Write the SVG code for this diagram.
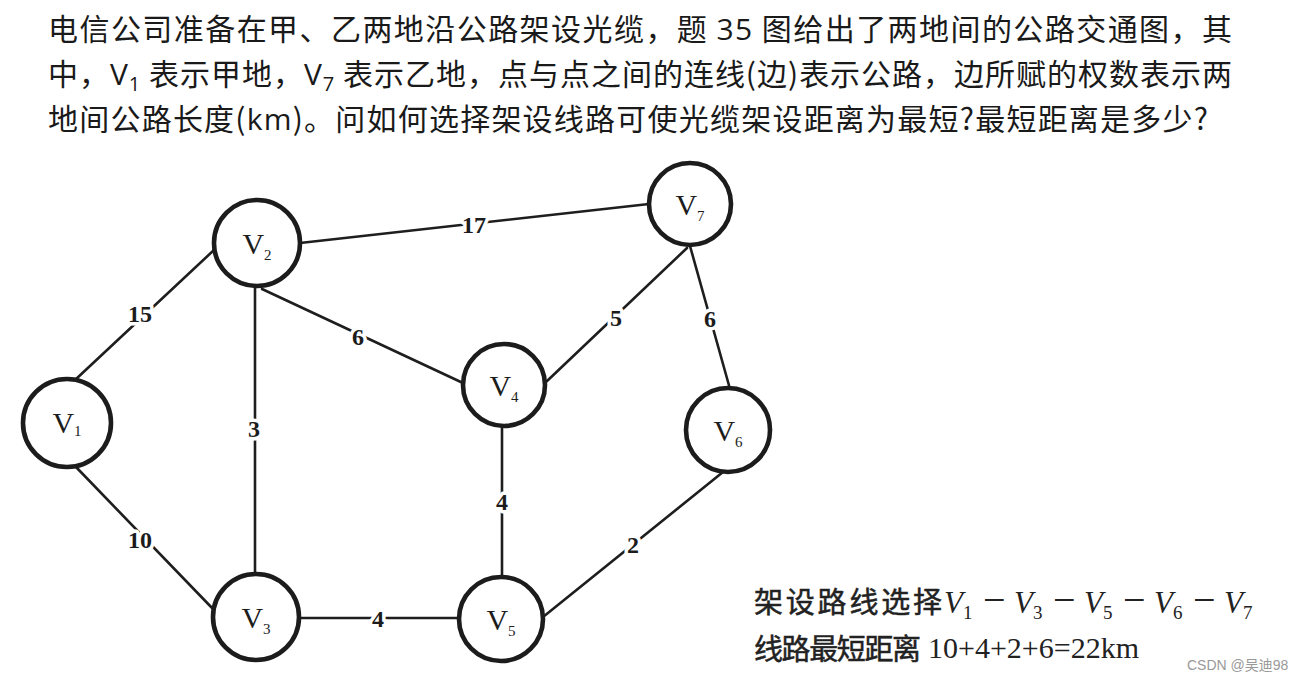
<svg xmlns="http://www.w3.org/2000/svg" width="1296" height="682" viewBox="0 0 1296 682">
<style>
.q{font-family:"Noto Sans CJK SC","Noto Sans",sans-serif;font-size:30px;fill:#1a1a1a}
.lat{font-family:"Open Sans","Noto Sans",sans-serif}
.edge{stroke:#1e1e1e;stroke-width:2.6;fill:none;stroke-linecap:round}
.node circle{fill:#fff;stroke:#1c1c1c;stroke-width:4.6}
.nl{font-family:"Liberation Serif","Times New Roman",serif;font-size:30px;fill:#1c1c1c;text-anchor:middle}
.w{font-family:"Liberation Serif","Times New Roman",serif;font-size:24px;font-weight:bold;fill:#1c1c1c;text-anchor:middle;stroke:#fff;stroke-width:7;paint-order:stroke;stroke-linejoin:round}
.ans{font-family:"Noto Sans CJK SC",sans-serif;font-size:29px;fill:#222;stroke:#222;stroke-width:0.5}
.m{font-family:"Liberation Serif","Times New Roman",serif;font-size:30px;fill:#222}
.mi{font-style:italic;font-size:31px}
.sb{font-size:19px}
.mn{font-size:40px}
</style>
<rect width="1296" height="682" fill="#fff"/>
<g id="question">
<text class="q" x="48" y="40" textLength="1184" lengthAdjust="spacing">电信公司准备在甲、乙两地沿公路架设光缆，题 <tspan class="lat">35</tspan> 图给出了两地间的公路交通图，其</text>
<text class="q" x="48" y="85" textLength="1184" lengthAdjust="spacing">中，<tspan class="lat">V</tspan><tspan class="lat" font-size="20" dy="6">1</tspan><tspan dy="-6"> 表示甲地，</tspan><tspan class="lat">V</tspan><tspan class="lat" font-size="20" dy="6">7</tspan><tspan dy="-6"> 表示乙地，点与点之间的连线(边)表示公路，边所赋的权数表示两</tspan></text>
<text class="q" x="48" y="130" textLength="1160" lengthAdjust="spacing">地间公路长度(<tspan class="lat">km</tspan>)。问如何选择架设线路可使光缆架设距离为最短?最短距离是多少?</text>
</g>
<g id="connectors">
<line class="edge" x1="75" y1="380" x2="214" y2="250"/>
<line class="edge" x1="76" y1="467" x2="214" y2="610"/>
<line class="edge" x1="300" y1="243" x2="649" y2="204"/>
<line class="edge" x1="255" y1="287" x2="255" y2="574"/>
<line class="edge" x1="262" y1="289" x2="463" y2="383"/>
<line class="edge" x1="546" y1="382" x2="687" y2="248"/>
<line class="edge" x1="690" y1="246" x2="730" y2="389"/>
<line class="edge" x1="502" y1="426" x2="502" y2="577"/>
<line class="edge" x1="723" y1="472" x2="543" y2="617"/>
<line class="edge" x1="298" y1="618" x2="459" y2="618"/>
<text class="w" x="140" y="322">15</text>
<text class="w" x="140" y="548">10</text>
<text class="w" x="254" y="437">3</text>
<text class="w" x="358" y="345">6</text>
<text class="w" x="474" y="233">17</text>
<text class="w" x="616" y="326">5</text>
<text class="w" x="710" y="327">6</text>
<text class="w" x="502" y="510">4</text>
<text class="w" x="633" y="553">2</text>
<text class="w" x="378" y="627">4</text>
</g>
<g id="v1" class="node"><circle cx="67" cy="423" r="44"/><text class="nl" x="67" y="433">V<tspan font-size="15" dy="3">1</tspan></text></g>
<g id="v2" class="node"><circle cx="257" cy="243" r="43"/><text class="nl" x="257" y="254">V<tspan font-size="15" dy="6">2</tspan></text></g>
<g id="v3" class="node"><circle cx="256" cy="617" r="43"/><text class="nl" x="256" y="628">V<tspan font-size="15" dy="6">3</tspan></text></g>
<g id="v4" class="node"><circle cx="504" cy="385" r="41"/><text class="nl" x="504" y="396">V<tspan font-size="15" dy="6">4</tspan></text></g>
<g id="v5" class="node"><circle cx="501" cy="619" r="42"/><text class="nl" x="501" y="630">V<tspan font-size="15" dy="6">5</tspan></text></g>
<g id="v6" class="node"><circle cx="728" cy="430" r="42"/><text class="nl" x="728" y="441">V<tspan font-size="15" dy="6">6</tspan></text></g>
<g id="v7" class="node"><circle cx="690" cy="204" r="41"/><text class="nl" x="690" y="215">V<tspan font-size="15" dy="6">7</tspan></text></g>
<g id="answer">
<text class="ans" x="754" y="613" textLength="188" lengthAdjust="spacing">架设路线选择</text>
<text class="m" y="613"><tspan class="mi" x="944">V</tspan><tspan class="sb" dy="6">1</tspan><tspan class="mn" x="983" dy="-6">−</tspan><tspan class="mi" x="1014">V</tspan><tspan class="sb" dy="6">3</tspan><tspan class="mn" x="1053" dy="-6">−</tspan><tspan class="mi" x="1084">V</tspan><tspan class="sb" dy="6">5</tspan><tspan class="mn" x="1123" dy="-6">−</tspan><tspan class="mi" x="1154">V</tspan><tspan class="sb" dy="6">6</tspan><tspan class="mn" x="1193" dy="-6">−</tspan><tspan class="mi" x="1224">V</tspan><tspan class="sb" dy="6">7</tspan></text>
<text class="ans" x="754" y="660" font-size="28" textLength="167" lengthAdjust="spacing">线路最短距离</text>
<text class="m" x="928" y="658" font-size="28">10+4+2+6=22km</text>
<text x="1187" y="670" font-family="Liberation Sans, sans-serif" font-size="14" fill="#999">CSDN @<tspan font-family="Noto Sans CJK SC, sans-serif">吴迪</tspan>98</text>
</g>
</svg>
